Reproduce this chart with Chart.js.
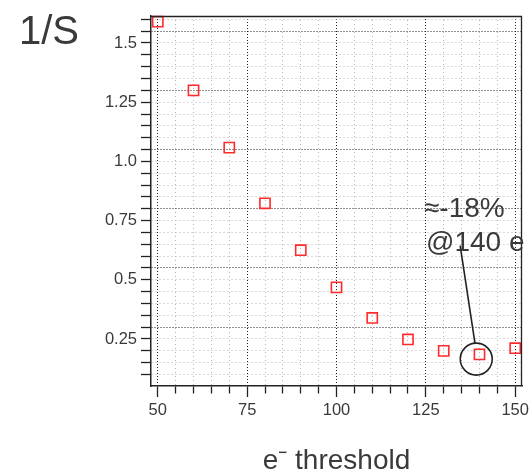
<!DOCTYPE html>
<html>
<head>
<meta charset="utf-8">
<script src="https://cdn.jsdelivr.net/npm/chart.js@4/dist/chart.umd.min.js"></script>
<style>
  html, body { margin: 0; padding: 0; background: #ffffff; }
  #wrap { width: 529px; height: 476px; position: relative; }
</style>
</head>
<body>
<div id="wrap"><canvas id="c" width="529" height="476"></canvas></div>
<script>
// ---- data ----
const thresholds = [50, 60, 70, 80, 90, 100, 110, 120, 130, 140, 150];
const invS = [1.59, 1.30, 1.058, 0.823, 0.625, 0.468, 0.339, 0.248, 0.200, 0.185, 0.211];
const xTickValues = [50, 75, 100, 125, 150];
const xTickLabels = ['50', '75', '100', '125', '150'];
const yTickValues = [0.25, 0.5, 0.75, 1.0, 1.25, 1.5];
const yTickLabels = ['0.25', '0.5', '0.75', '1.0', '1.25', '1.5'];
const yDarkGrid = [0.30, 0.55, 0.80, 1.05, 1.30, 1.55];
const yAxisTitle = '1/S';
const xAxisTitle = 'e\u207B threshold';
const noteLines = ['\u2248-18%', '@140 e'];
const notePoint = { x: 139.1, y: 0.165 };

const near = (a, b) => Math.abs(a - b) < 1e-6;
const TICK_FONT = { family: "'Liberation Sans Narrow', 'Arial Narrow', 'Liberation Sans', Arial, sans-serif", size: 16.5 };
const TEXT_COLOR = '#3a3a3a';

// minor ticks: every 5 units on x (50..150), every 0.05 on y (0.10..1.60)
const minorTicks = (from, to, stepHundredths) => {
  const out = [];
  for (let k = from; k <= to; k += stepHundredths) out.push({ value: Math.round(k) / 100 });
  return out;
};

const frame = {
  id: 'frame',
  afterDraw(chart) {
    const { ctx, chartArea: a, scales } = chart;
    ctx.save();
    ctx.strokeStyle = '#222';
    ctx.lineWidth = 1.3;
    ctx.beginPath();
    ctx.moveTo(a.left, a.top + 0.5);
    ctx.lineTo(a.right - 0.5, a.top + 0.5);
    ctx.lineTo(a.right - 0.5, a.bottom);
    ctx.stroke();
    ctx.fillStyle = TEXT_COLOR;
    ctx.font = "40px 'Liberation Sans', Arial, sans-serif";
    ctx.textAlign = 'left';
    ctx.textBaseline = 'alphabetic';
    ctx.fillText(yAxisTitle, 19, 44);
    const xs = scales.x, ys = scales.y;
    const cx = xs.getPixelForValue(notePoint.x);
    const cy = ys.getPixelForValue(notePoint.y);
    ctx.strokeStyle = '#222';
    ctx.lineWidth = 1.6;
    ctx.beginPath();
    ctx.arc(cx, cy, 16, 0, Math.PI * 2);
    ctx.stroke();
    ctx.beginPath();
    ctx.moveTo(xs.getPixelForValue(134.6), ys.getPixelForValue(0.644));
    ctx.lineTo(cx - 1.3, cy - 16);
    ctx.stroke();
    ctx.font = "28px 'Liberation Sans', Arial, sans-serif";
    ctx.fillStyle = TEXT_COLOR;
    ctx.fillText(noteLines[0], 424, 217);
    ctx.fillText(noteLines[1], 426, 251);
    ctx.restore();
  }
};

const isXMajor = c => c.tick && xTickValues.some(t => near(t, c.tick.value));
const isYDark = c => c.tick && yDarkGrid.some(t => near(t, c.tick.value));

new Chart(document.getElementById('c'), {
  type: 'scatter',
  data: {
    datasets: [{
      data: thresholds.map((t, i) => ({ x: t, y: invS[i] })),
      pointStyle: 'rect',
      pointRadius: 7.2,
      pointHoverRadius: 7.2,
      borderColor: '#ff2b2b',
      backgroundColor: 'rgba(0,0,0,0)',
      pointBorderWidth: 1.6,
      clip: false
    }]
  },
  options: {
    responsive: false,
    animation: false,
    events: [],
    layout: { autoPadding: false, padding: { left: 0, right: 7, top: 16, bottom: 0 } },
    plugins: { legend: { display: false }, tooltip: { enabled: false }, title: { display: false } },
    scales: {
      x: {
        type: 'linear',
        min: 48.1,
        max: 151.9,
        bounds: 'data',
        afterFit: s => { s.height = 90; s.paddingLeft = 0; s.paddingRight = 0; },
        afterBuildTicks: s => { s.ticks = minorTicks(5000, 15000, 500); },
        ticks: {
          autoSkip: false,
          maxRotation: 0,
          padding: 4,
          color: TEXT_COLOR,
          font: TICK_FONT,
          callback: v => {
            const i = xTickValues.findIndex(t => near(t, v));
            return i >= 0 ? xTickLabels[i] : '';
          }
        },
        grid: {
          color: c => isXMajor(c) ? '#222' : '#b4b4b4',
          lineWidth: 1,
          tickLength: 11,
          tickColor: '#222',
          tickWidth: 1.3,
          tickBorderDash: c => isXMajor(c) ? [] : [7, 100]
        },
        border: {
          color: '#222',
          width: 1.5,
          dash: c => !c.tick ? [] : (isXMajor(c) ? [1, 2] : [1, 3])
        },
        title: {
          display: true,
          text: xAxisTitle,
          color: TEXT_COLOR,
          font: { family: "'Liberation Sans', Arial, sans-serif", size: 28 },
          padding: { top: 0, bottom: -2 }
        }
      },
      y: {
        type: 'linear',
        min: 0.0515,
        max: 1.614,
        bounds: 'data',
        afterFit: s => { s.width = 151; s.paddingTop = 0; s.paddingBottom = 0; },
        afterBuildTicks: s => { s.ticks = minorTicks(10, 160, 5); },
        ticks: {
          autoSkip: false,
          padding: 4,
          color: TEXT_COLOR,
          font: TICK_FONT,
          callback: v => {
            const i = yTickValues.findIndex(t => near(t, v));
            return i >= 0 ? yTickLabels[i] : '';
          }
        },
        grid: {
          color: c => isYDark(c) ? '#222' : '#b4b4b4',
          lineWidth: 1,
          tickLength: 10,
          tickColor: '#222',
          tickWidth: 1.3
        },
        border: {
          color: '#222',
          width: 1.5,
          dash: c => !c.tick ? [] : (isYDark(c) ? [1, 2] : [1, 3])
        }
      }
    }
  },
  plugins: [frame]
});
</script>
</body>
</html>
